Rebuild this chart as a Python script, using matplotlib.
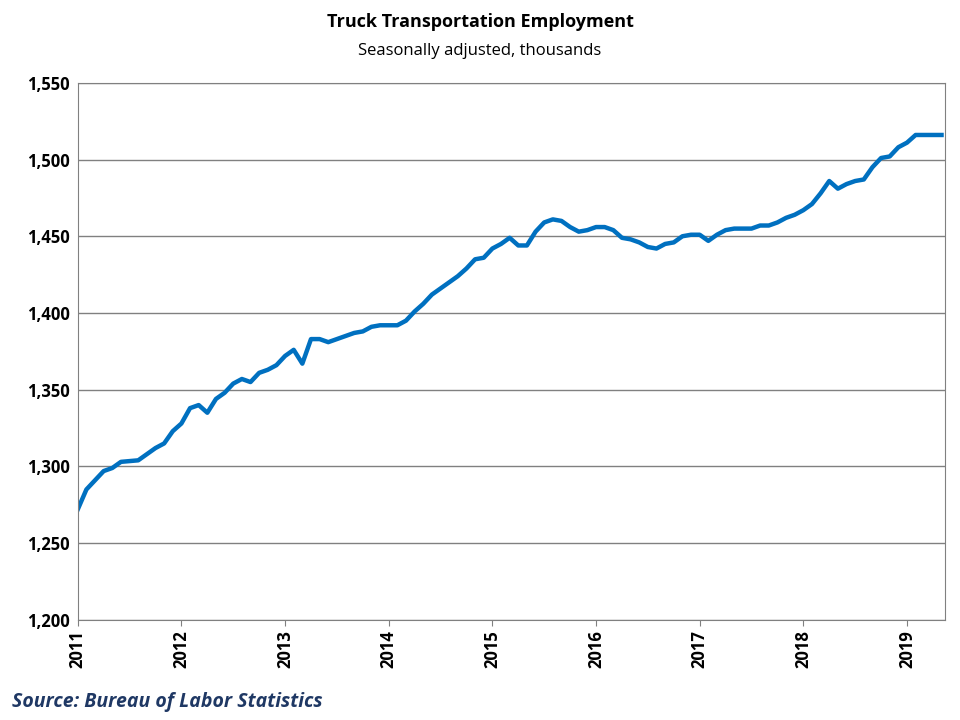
import numpy as np
import matplotlib.pyplot as plt

# Monthly truck transportation employment, Jan 2011 - May 2019 (thousands)
emp_2011 = [1272, 1285, 1291, 1297, 1299, 1303, 1303.5, 1304, 1308, 1312, 1315, 1323]
emp_2012 = [1328, 1338, 1340, 1335, 1344, 1348, 1354, 1357, 1355, 1361, 1363, 1366]
emp_2013 = [1372, 1376, 1367, 1383, 1383, 1381, 1383, 1385, 1387, 1388, 1391, 1392]
emp_2014 = [1392, 1392, 1395, 1401, 1406, 1412, 1416, 1420, 1424, 1429, 1435, 1436]
emp_2015 = [1442, 1445, 1449, 1444, 1444, 1453, 1459, 1461, 1460, 1456, 1453, 1454]
emp_2016 = [1456, 1456, 1454, 1449, 1448, 1446, 1443, 1442, 1445, 1446, 1450, 1451]
emp_2017 = [1451, 1447, 1451, 1454, 1455, 1455, 1455, 1457, 1457, 1459, 1462, 1464]
emp_2018 = [1467, 1471, 1478, 1486, 1481, 1484, 1486, 1487, 1495, 1501, 1502, 1508]
emp_2019 = [1511, 1516, 1516, 1516, 1516]
years = list(range(2011, 2020))

values = (emp_2011 + emp_2012 + emp_2013 + emp_2014 + emp_2015 + emp_2016
          + emp_2017 + emp_2018 + emp_2019)
x = 2011 + np.arange(len(values)) / 12.0

plt.rcParams['font.family'] = ['Open Sans', 'DejaVu Sans']

fig = plt.figure(figsize=(9.6, 7.2), dpi=100)
ax = fig.add_axes([0.081, 0.139, 0.903, 0.746])

ax.plot(x, values, color='#0070C0', linewidth=3.2, solid_joinstyle='round')

ax.set_ylim(1200, 1550)
ax.set_yticks(np.arange(1200, 1551, 50))
ax.set_yticklabels([f'{v:,}' for v in range(1200, 1551, 50)], fontsize=12, fontweight='bold')
ax.set_xlim(2011, x[-1] + 0.03)
ax.set_xticks(years)
ax.set_xticklabels([str(y) for y in years], rotation=90, fontsize=12, fontweight='bold')
ax.yaxis.grid(True, color='#808080', linewidth=1)
ax.set_axisbelow(True)
for s in ax.spines.values():
    s.set_color('#808080')
ax.tick_params(axis='y', length=0, pad=6)
ax.tick_params(axis='x', length=4, color='#808080')

fig.text(0.5, 0.962, 'Truck Transportation Employment', ha='center', fontsize=13, fontweight='bold')
fig.text(0.5, 0.924, 'Seasonally adjusted, thousands', ha='center', fontsize=12)
fig.text(0.012, 0.018, 'Source: Bureau of Labor Statistics', ha='left', fontsize=14,
         fontweight='bold', style='italic', color='#1F3864')

fig.savefig('out.png', dpi=100)
